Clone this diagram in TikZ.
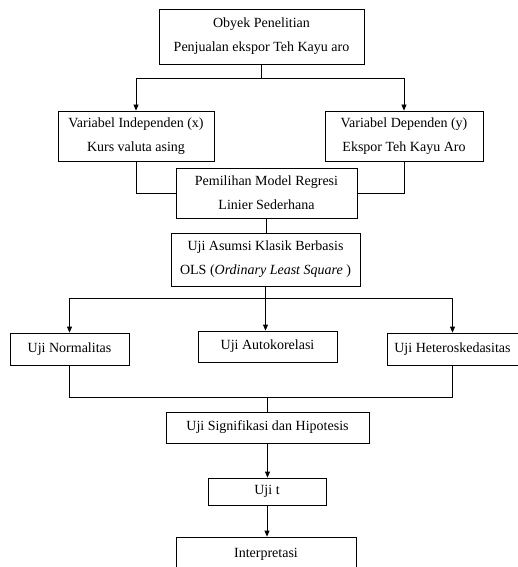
\documentclass[tikz,border=0pt]{standalone}
\usepackage{fontspec}
\setmainfont{Liberation Serif}
\usetikzlibrary{arrows.meta}
\tikzset{
  box/.style={draw, line width=0.8pt, inner sep=0pt, align=center, font=\fontsize{14}{24}\selectfont},
  flow/.style={line width=0.8pt},
  arr/.style={flow, -{Triangle[length=6pt,width=5pt]}}
}
\begin{document}
\begin{tikzpicture}[x=1pt,y=1pt,yscale=-1]
  \useasboundingbox (0,0) rectangle (517,567);

  \node[box, minimum width=205pt, minimum height=55pt] (obyek) at (261.5,36.5) {Obyek Penelitian\\Penjualan ekspor Teh Kayu aro};
  \node[box, minimum width=156pt, minimum height=50pt] (indep) at (136,136) {Variabel Independen (x)\\Kurs valuta asing};
  \node[box, minimum width=158pt, minimum height=50pt] (dep) at (404,136) {Variabel Dependen (y)\\Ekspor Teh Kayu Aro};
  \node[box, minimum width=181pt, minimum height=50pt] (model) at (266.5,193) {Pemilihan Model Regresi\\Linier Sederhana};
  \node[box, minimum width=189pt, minimum height=53pt] (asumsi) at (265.5,259.5) {Uji Asumsi Klasik Berbasis\\OLS (\textit{Ordinary Least Square} )};

  \node[box, minimum width=119pt, minimum height=32pt] (normal) at (69.5,349) {Uji Normalitas};
  \node[box, minimum width=139pt, minimum height=31pt] (auto) at (267.5,346.5) {Uji Autokorelasi};
  \node[box, minimum width=131pt, minimum height=32pt] (hetero) at (452.5,349) {Uji Heteroskedasitas};

  \node[box, minimum width=203pt, minimum height=31pt] (signif) at (267.5,427.5) {Uji Signifikasi dan Hipotesis};
  \node[box, minimum width=118pt, minimum height=27pt] (ujit) at (267,491.5) {Uji t};
  \node[box, minimum width=180pt, minimum height=34pt] (interp) at (266,554) {Interpretasi};

  % obyek ke variabel
  \draw[arr] (obyek.south) -- ++(0,14) -| (indep.north);
  \draw[arr] (obyek.south) ++(0,14) -| (dep.north);
  \draw[flow] (indep.south) |- (model.west);
  \draw[flow] (dep.south) |- (model.east);
  \draw[flow] (model.south) -- (model.south |- asumsi.north);

  % uji asumsi klasik
  \draw[arr] (asumsi.south) -- ++(0,12) -| (normal.north);
  \draw[arr] (asumsi.south) ++(0,12) -| (hetero.north);
  \draw[arr] (asumsi.south) -- (asumsi.south |- auto.north);
  \draw[flow] (normal.south) -- ++(0,32) coordinate (merge) -| (hetero.south);
  \draw[flow] (merge -| signif.north) -- (signif.north);

  \draw[arr] (signif.south) -- (signif.south |- ujit.north);
  \draw[arr] (ujit.south) -- (ujit.south |- interp.north);
\end{tikzpicture}
\end{document}
